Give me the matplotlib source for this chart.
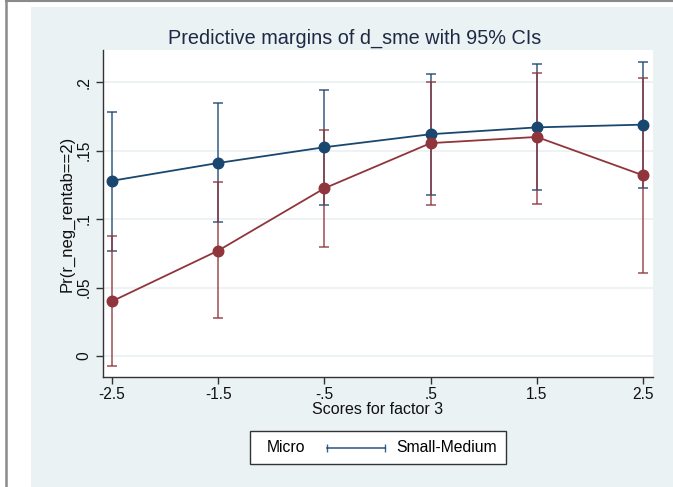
import matplotlib.pyplot as plt
from matplotlib.lines import Line2D
from matplotlib.patches import Rectangle

plt.rcParams["font.family"] = ["Liberation Sans", "DejaVu Sans"]

# data
x_scores = [-2.5, -1.5, -0.5, 0.5, 1.5, 2.5]
x_labels = ["-2.5", "-1.5", "-.5", ".5", "1.5", "2.5"]
y_ticks = [0, 0.05, 0.1, 0.15, 0.2]
y_labels = ["0", ".05", ".1", ".15", ".2"]

micro = [0.040, 0.077, 0.1225, 0.1555, 0.160, 0.132]
micro_lo = [-0.007, 0.028, 0.080, 0.110, 0.111, 0.061]
micro_hi = [0.088, 0.127, 0.165, 0.200, 0.207, 0.203]

sme = [0.128, 0.141, 0.1525, 0.162, 0.167, 0.169]
sme_lo = [0.077, 0.098, 0.110, 0.1175, 0.121, 0.123]
sme_hi = [0.178, 0.185, 0.194, 0.206, 0.213, 0.215]

blue = "#1a476f"
red = "#90353b"
bg = "#eaf2f3"

W, H = 673, 487
fig = plt.figure(figsize=(W / 100, H / 100), dpi=100)
fig.patch.set_facecolor("white")

# screenshot frame + Stata graph region
fig.add_artist(Rectangle((31 / W, 0), 1 - 31 / W, 1 - 7 / H, transform=fig.transFigure,
                         facecolor=bg, edgecolor="none", zorder=0))
fig.add_artist(Line2D([6 / W, 6 / W], [0, 1], transform=fig.transFigure, color="#8a8a8a", lw=1.8))
fig.add_artist(Line2D([6 / W, 1], [1 - 0.8 / H, 1 - 0.8 / H], transform=fig.transFigure,
                      color="#8a8a8a", lw=1.5))

ax = fig.add_axes([103 / W, 1 - 377 / H, 550 / W, 327 / H])
ax.set_facecolor("white")


def draw_series(y, lo, hi, color, z):
    err = [[v - l for v, l in zip(y, lo)], [h - v for v, h in zip(y, hi)]]
    ax.errorbar(x_scores, y, yerr=err, fmt="none", ecolor=color, elinewidth=1.3,
                capsize=3.6, capthick=1.3, alpha=0.75, zorder=z)
    ax.plot(x_scores, y, color=color, lw=1.3, marker="o", markersize=7.6, zorder=z + 2)


draw_series(sme, sme_lo, sme_hi, blue, 2)
draw_series(micro, micro_lo, micro_hi, red, 2.1)

ax.set_xlim(-2.585, 2.594)
ax.set_ylim(-0.0153, 0.2235)
ax.set_xticks(x_scores)
ax.set_xticklabels(x_labels)
ax.set_yticks(y_ticks)
ax.set_yticklabels(y_labels, rotation=90, va="center")
ax.tick_params(axis="both", labelsize=11.2, length=5, width=1, color="#333333", labelcolor="#111111")
ax.tick_params(axis="x", pad=2.5)
ax.yaxis.grid(True, color="#eaf0f3", lw=1.2)
ax.set_axisbelow(True)
for side in ["top", "right"]:
    ax.spines[side].set_visible(False)
for side in ["left", "bottom"]:
    ax.spines[side].set_color("#333333")
    ax.spines[side].set_linewidth(1)

ax.set_xlabel("Scores for factor 3", fontsize=11.5, labelpad=0, color="#111111")
ax.set_ylabel("Pr(r_neg_rentab==2)", fontsize=12, labelpad=1, color="#111111")
fig.text(355 / W, 1 - 38 / H, "Predictive margins of d_sme with 95% CIs", ha="center",
         va="center", fontsize=14.3, color="#1e2a44")

# legend box
fig.add_artist(Rectangle((250 / W, 1 - 464 / H), 256 / W, 33 / H, transform=fig.transFigure,
                         facecolor="white", edgecolor="#333333", lw=1, zorder=5))
fig.text(286 / W, 1 - 448 / H, "Micro", ha="center", va="center", fontsize=11.3, zorder=6)
fig.add_artist(Line2D([327 / W, 385 / W], [1 - 448 / H] * 2, transform=fig.transFigure,
                      color=blue, lw=1.2, alpha=0.85, marker="|", markersize=6, zorder=6))
fig.text(396 / W, 1 - 448 / H, "Small-Medium", ha="left", va="center", fontsize=11.3, zorder=6)

fig.savefig("out.png", dpi=100)
